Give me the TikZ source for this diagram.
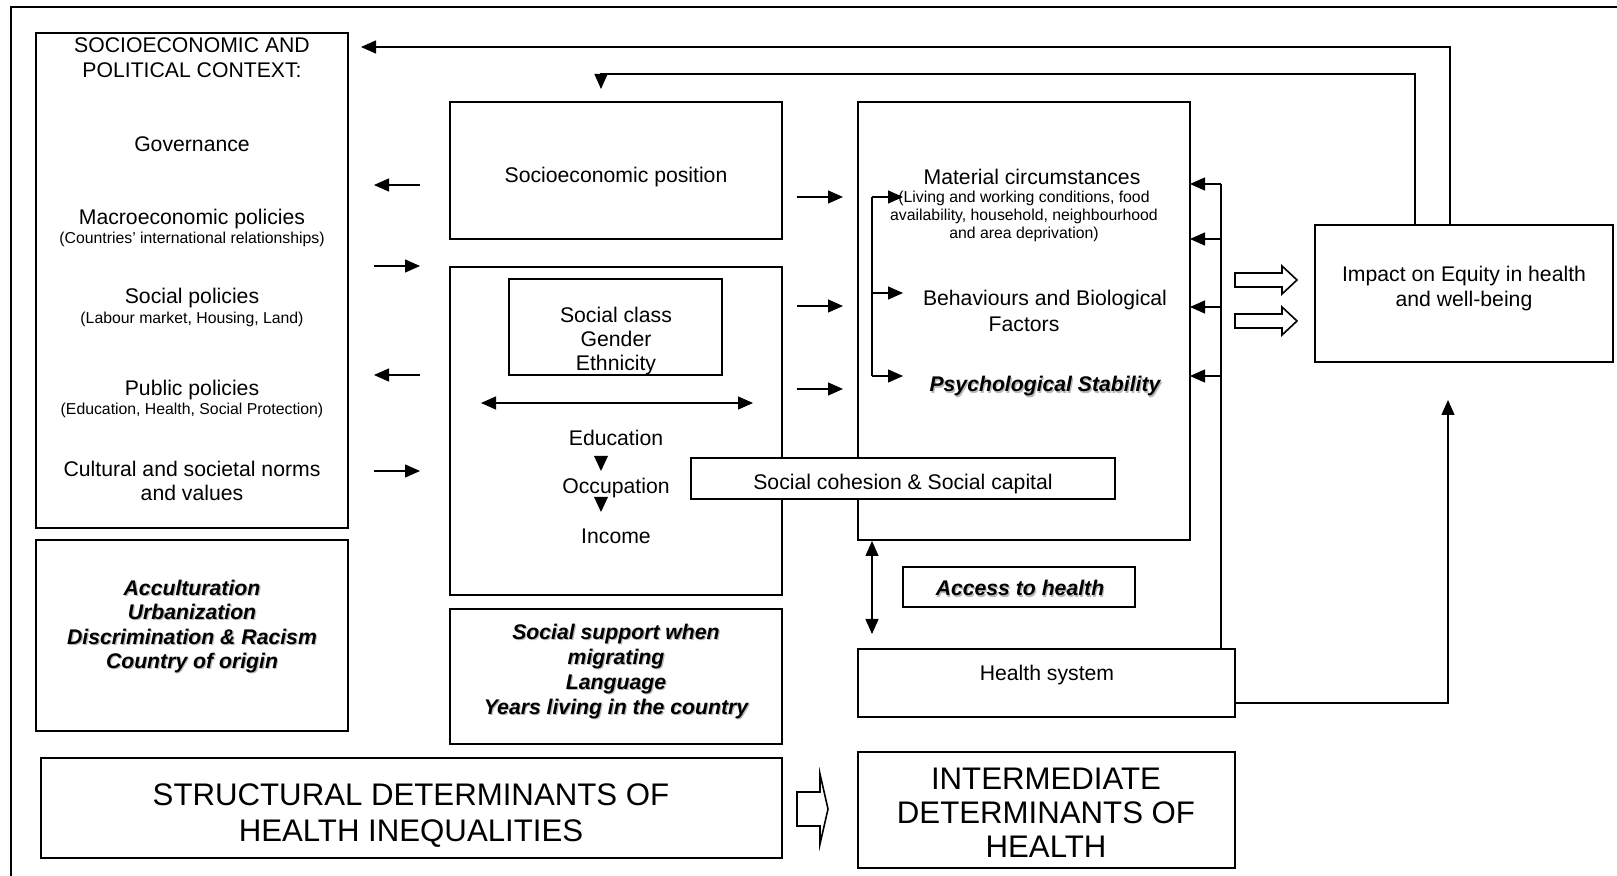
\documentclass[tikz,border=0pt]{standalone}
\usepackage{fontspec}
\setmainfont{Liberation Sans}
\usetikzlibrary{arrows.meta,fit}
\newcommand{\mainf}{\fontsize{10.6pt}{12.3pt}\selectfont}
\newcommand{\smallf}{\fontsize{7.9pt}{9pt}\selectfont}
\newcommand{\bigf}{\fontsize{15.6pt}{18pt}\selectfont}
\newcommand{\bigfb}{\fontsize{15.6pt}{17pt}\selectfont}
\newcommand{\shd}[1]{\makebox[0pt][l]{\kern0.6pt\raisebox{-0.6pt}{\color{black!28}#1}}#1}
\begin{document}
\begin{tikzpicture}[x=0.5pt,y=-0.5pt,
  box/.style={draw, line width=1pt, inner sep=0pt, fill=white},
  txt/.style={inner sep=0pt, align=center, font=\mainf, yshift=-1pt},
  sml/.style={inner sep=0pt, align=center, font=\smallf, yshift=-1pt},
  bi/.style={inner sep=0pt, align=center, font=\mainf\bfseries\itshape, yshift=-1.5pt},
  bigt/.style={inner sep=0pt, align=center, font=\bigf},
  ln/.style={line width=0.7pt},
  arr/.style={line width=0.7pt, -{Triangle[length=7.5pt,width=6.5pt]}},
  dbl/.style={line width=0.7pt, {Triangle[length=7.5pt,width=6.5pt]}-{Triangle[length=7.5pt,width=6.5pt]}},
  hollow/.style={draw, line width=0.8pt, fill=white}
]
\useasboundingbox (0,0) rectangle (1617,876);
% outer frame
\coordinate (fr1) at (11,876); \coordinate (fr2) at (11,7); \coordinate (fr3) at (1617,7);
\draw[line width=0.8pt] (fr1) -- (fr2) -- (fr3);

% boxes
\node[box, fit={(36,33)(348,528)}] (sec) {};
\node[box, fit={(36,540)(348,731)}] (acc) {};
\node[box, fit={(450,102)(782,239)}] (sep) {};
\node[box, fit={(450,267)(782,595)}] (cls) {};
\node[box, fit={(509,279)(722,375)}] (inner) {};
\node[box, fit={(450,609)(782,744)}] (sup) {};
\node[box, fit={(41,758)(782,858)}] (struct) {};
\node[box, fit={(858,752)(1235,868)}] (interm) {};
\node[box, fit={(858,102)(1190,540)}] (im) {};
\node[box, fit={(691,458)(1115,499)}] (coh) {};
\node[box, fit={(903,567)(1135,607)}] (acch) {};
\node[box, fit={(858,649)(1235,717)}] (hs) {};
\node[box, fit={(1315,225)(1613,362)}] (imp) {};

% SEC texts
\node[txt, yshift=1pt] (sectitle) at (192,57.5) {SOCIOECONOMIC AND\\POLITICAL CONTEXT:};
\node[txt] (gov) at (192,142) {Governance};
\node[txt] (macro) at (192,217) {Macroeconomic policies};
\node[sml] (macros) at (192,237) {(Countries’ international relationships)};
\node[txt] (socpol) at (192,296) {Social policies};
\node[sml] (socpols) at (192,317) {(Labour market, Housing, Land)};
\node[txt] (pubpol) at (192,388) {Public policies};
\node[sml] (pubpols) at (192,408) {(Education, Health, Social Protection)};
\node[txt, yshift=0.5pt] (cult) at (192,480) {Cultural and societal norms\\and values};

% acculturation
\node[bi, font=\fontsize{10.6pt}{12.2pt}\selectfont\bfseries\itshape] (acct) at (192,624) {\shd{Acculturation}\\\shd{Urbanization}\\\shd{Discrimination \& Racism}\\\shd{Country of origin}};

% SEP column
\node[txt, yshift=-0.5pt] (sept) at (616,174) {Socioeconomic position};
\node[txt, font=\fontsize{10.6pt}{12.1pt}\selectfont] (innert) at (616,339) {Social class\\Gender\\Ethnicity};
\coordinate (dl) at (481,403); \coordinate (dr) at (753,403);
\draw[dbl] (dl) -- (dr);
\node[txt] (edu) at (616,436) {Education};
\node[txt] (occ) at (616,486) {Occupation};
\node[txt] (inc) at (616,534) {Income};
\fill (594,456) -- (608,456) -- (601,471) -- cycle;
\fill (594,497) -- (608,497) -- (601,512) -- cycle;
\node[bi, font=\fontsize{10.6pt}{12.4pt}\selectfont\bfseries\itshape] (supt) at (616,669) {\shd{Social support when}\\\shd{migrating}\\\shd{Language}\\\shd{Years living in the country}};

% bottom titles
\node[bigt, yshift=-1.5pt] (structt) at (411,813) {STRUCTURAL DETERMINANTS OF\\HEALTH INEQUALITIES};
\node[bigt, font=\bigfb] (intermt) at (1046,813) {INTERMEDIATE\\DETERMINANTS OF\\HEALTH};
\draw[hollow] (797,792) -- (820,792) -- (820,774) -- (828,809) -- (820,844) -- (820,826) -- (797,826) -- cycle;

% arrows SEC <-> SEP
\coordinate (a1s) at (420,185); \coordinate (a1e) at (374,185);
\coordinate (a2s) at (374,266); \coordinate (a2e) at (420,266);
\coordinate (a3s) at (420,375); \coordinate (a3e) at (374,375);
\coordinate (a4s) at (374,471); \coordinate (a4e) at (420,471);
\draw[arr] (a1s) -- (a1e);
\draw[arr] (a2s) -- (a2e);
\draw[arr] (a3s) -- (a3e);
\draw[arr] (a4s) -- (a4e);

% arrows SEP -> intermediate
\coordinate (b1s) at (797,197); \coordinate (b1e) at (843,197);
\coordinate (b2s) at (797,306); \coordinate (b2e) at (843,306);
\coordinate (b3s) at (797,389); \coordinate (b3e) at (843,389);
\draw[arr] (b1s) -- (b1e);
\draw[arr] (b2s) -- (b2e);
\draw[arr] (b3s) -- (b3e);

% intermediate texts
\node[txt] (mat) at (1032,175) {Material circumstances};
\node[sml] (mats) at (1024,214) {(Living and working conditions, food\\availability, household, neighbourhood\\and area deprivation)};
\node[txt] (beh) at (1045,298) {Behaviours and Biological};
\node[txt] (fac) at (1024,322) {Factors};
\node[bi] (psy) at (1045,384) {\shd{Psychological Stability}};

% bracket
\coordinate (k1) at (872,197); \coordinate (k2) at (872,293); \coordinate (k3) at (872,376);
\coordinate (k1e) at (903,197); \coordinate (k2e) at (903,293); \coordinate (k3e) at (903,376);
\draw[ln] (k1) -- (k3);
\draw[arr] (k1) -- (k1e);
\draw[arr] (k2) -- (k2e);
\draw[arr] (k3) -- (k3e);

% social cohesion, access, health system
\node[txt, yshift=-1pt] (coht) at (903,480) {Social cohesion \& Social capital};
\node[bi, yshift=1pt] (accht) at (1020,588) {\shd{Access to health}};
\node[txt, yshift=-0.5pt] (hst) at (1047,672) {Health system};
\coordinate (v1) at (872,541); \coordinate (v2) at (872,634);
\draw[dbl] (v1) -- (v2);

% right bus from health system
\coordinate (r0) at (1221,649); \coordinate (r1) at (1221,184);
\coordinate (r2) at (1221,239); \coordinate (r3) at (1221,307); \coordinate (r4) at (1221,376);
\coordinate (r1e) at (1190,184); \coordinate (r2e) at (1190,239); \coordinate (r3e) at (1190,307); \coordinate (r4e) at (1190,376);
\draw[ln] (r0) -- (r1);
\draw[arr] (r1) -- (r1e);
\draw[arr] (r2) -- (r2e);
\draw[arr] (r3) -- (r3e);
\draw[arr] (r4) -- (r4e);

% hollow arrows to impact
\draw[hollow] (1235,273) -- (1282,273) -- (1282,266) -- (1297,280) -- (1282,294) -- (1282,287) -- (1235,287) -- cycle;
\draw[hollow] (1235,314) -- (1282,314) -- (1282,307) -- (1297,321) -- (1282,335) -- (1282,328) -- (1235,328) -- cycle;

% impact text
\node[txt, yshift=-0.5pt, font=\fontsize{10.6pt}{12.5pt}\selectfont] (impt) at (1464,286) {Impact on Equity in health\\and well-being};

% feedback loops
\coordinate (fa0) at (1450,225); \coordinate (fa1) at (1450,47); \coordinate (fa2) at (361,47);
\draw[arr] (fa0) -- (fa1) -- (fa2);
\coordinate (fb0) at (1415,225); \coordinate (fb1) at (1415,74); \coordinate (fb2) at (601,74); \coordinate (fb3) at (601,89);
\draw[arr] (fb0) -- (fb1) -- (fb2) -- (fb3);
\coordinate (hc0) at (1235,703); \coordinate (hc1) at (1448,703); \coordinate (hc2) at (1448,400);
\draw[arr] (hc0) -- (hc1) -- (hc2);
\end{tikzpicture}
\end{document}
